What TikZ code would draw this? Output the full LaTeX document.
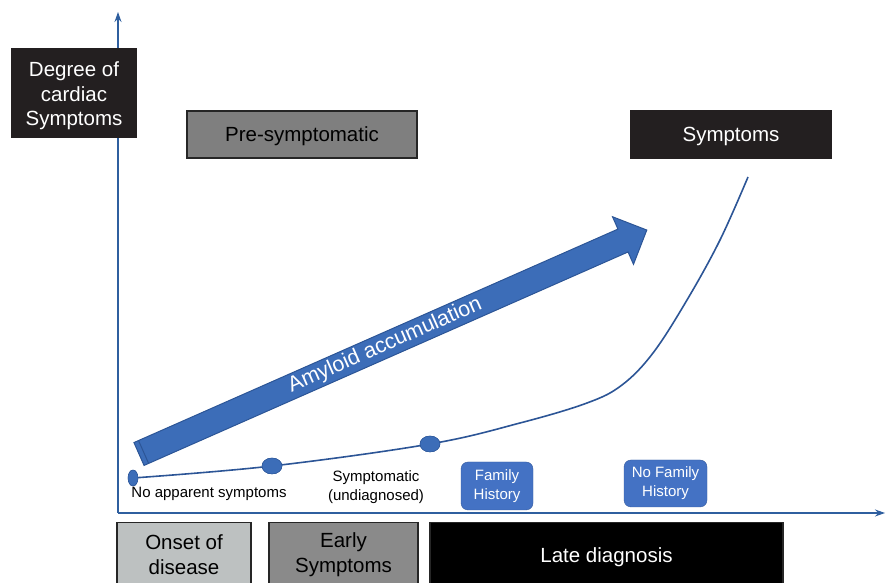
\documentclass[tikz,border=0pt]{standalone}
\usepackage{fontspec}
\setmainfont{Liberation Sans}
\usetikzlibrary{arrows.meta,shapes.geometric}

\definecolor{axisblue}{HTML}{2F5F9F}
\definecolor{arrowblue}{HTML}{3C6DB8}
\definecolor{arrowedge}{HTML}{2C5596}
\definecolor{tagblue}{HTML}{4472C4}
\definecolor{onsetgray}{HTML}{BDC1C1}
\definecolor{earlygray}{HTML}{8A8A8A}
\definecolor{presgray}{HTML}{7F7F7F}
\definecolor{boxblack}{HTML}{231F20}

\begin{document}
\begin{tikzpicture}[x=1pt, y=1pt,
    axis/.style={draw=axisblue, line width=1.1pt, -{Stealth[length=10pt,width=7pt]}},
    bigtext/.style={font=\fontsize{20.5}{24.5}\selectfont, align=center, inner sep=0pt},
    oneline/.style={text height=15.7pt, text depth=1pt},
    smalltext/.style={font=\fontsize{15}{19}\selectfont, align=center, inner sep=0pt},
    stagebox/.style={bigtext, draw=black!85, line width=1.5pt, minimum height=64, anchor=north},
    darkbox/.style={bigtext, fill=boxblack, text=white},
    tagbox/.style={smalltext, fill=tagblue, draw=tagblue!80!black, rounded corners=7pt, text=white},
    dot/.style={ellipse, fill=arrowblue, draw=arrowedge, inner sep=0pt, minimum width=20, minimum height=16},
    curve/.style={draw=arrowedge, line width=1.6pt}]
  \useasboundingbox (0,0) rectangle (886,583);
  \clip (0,0) rectangle (886,583);

  % axes
  \coordinate (origin) at (118,70);
  \coordinate (ytop) at (118,571);
  \coordinate (xend) at (885,70);
  \draw[axis] (origin) -- (ytop);
  \draw[axis] (origin) -- (xend);

  % upper labels
  \node[darkbox, text height=70pt, text depth=4.3pt, minimum width=126, minimum height=90] (degree) at (74,490) {Degree of\\cardiac\\Symptoms};
  \node[bigtext, oneline, fill=presgray, draw=black!85, line width=1.5pt, minimum width=230, minimum height=47] (pre) at (302,448.5) {Pre-symptomatic};
  \node[darkbox, oneline, minimum width=202, minimum height=49] (symptoms) at (731,448.5) {Symptoms};

  % accumulation arrow
  \begin{scope}[shift={(139,129)}, rotate=23.8]
    \filldraw[fill=arrowblue, draw=arrowedge, line width=1pt]
      (0,-12.5) -- (529,-12.5) -- (529,-26) -- (555,0) -- (529,26) -- (529,12.5) -- (0,12.5) -- cycle;
    \draw[arrowedge, line width=1pt] (5,-12.5) -- (5,12.5);
    \node[bigtext, text=white, rotate=23.8, font=\fontsize{21.5}{24}\selectfont] (amyloid) at (269,0) {Amyloid accumulation};
  \end{scope}

  % progression curve
  \node[dot, minimum width=10] (d1) at (133,105) {};
  \node[dot] (d2) at (272,117) {};
  \node[dot] (d3) at (430,139) {};
  \draw[curve] plot[smooth, tension=0.6] coordinates {(d1.center) (d2.center) (d3.center)
    (520,160) (587,180) (622,198) (653,230) (687,283) (720,343) (748,406)};
  \node[dot, minimum width=10] at (d1) {};
  \node[dot] at (d2) {};
  \node[dot] at (d3) {};

  \node[smalltext] (none) at (209,89) {No apparent symptoms};
  \node[smalltext] (undiag) at (376,96) {Symptomatic\\(undiagnosed)};
  \node[tagbox, minimum width=72, minimum height=48] (family) at (497,97) {Family\\History};
  \node[tagbox, minimum width=83, minimum height=47] (nofamily) at (665.5,99.5) {No Family\\History};

  % stages below the time axis
  \node[stagebox, fill=onsetgray, minimum width=134] (onset) at (184,61) {Onset of\\disease};
  \node[stagebox, fill=earlygray, minimum width=149] (early) at (343.5,61) {Early\\Symptoms};
  \node[stagebox, oneline, fill=black, text=white, minimum width=353] (late) at (606.5,61) {Late diagnosis};
\end{tikzpicture}
\end{document}
